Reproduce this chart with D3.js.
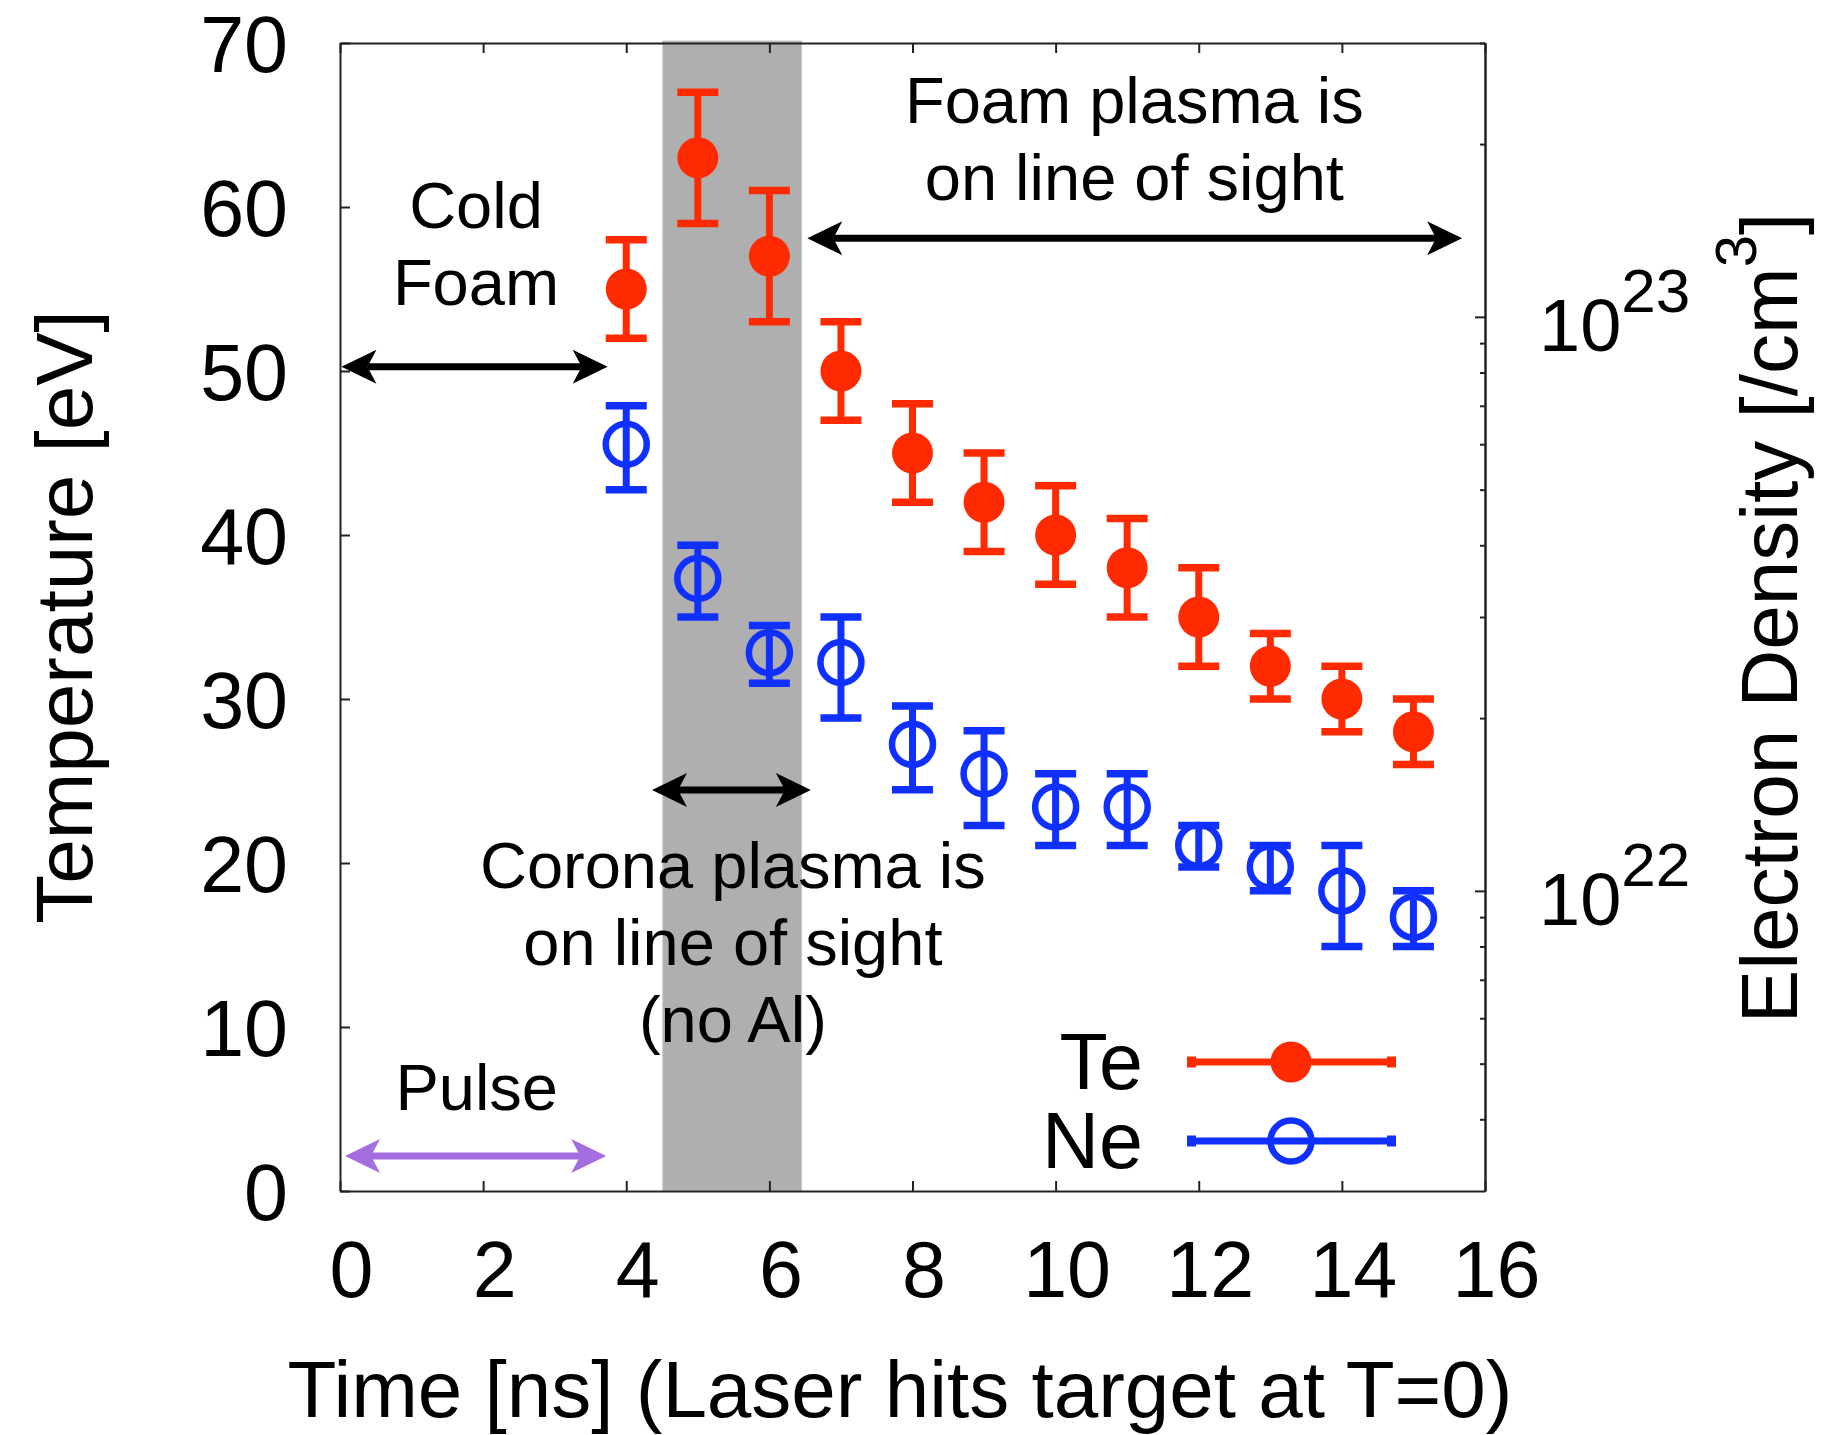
<!DOCTYPE html>
<html>
<head>
<meta charset="utf-8">
<script src="https://cdn.jsdelivr.net/npm/d3@7"></script>
<style>
  body { margin: 0; background: #fff; }
  text { font-family: "Liberation Sans", Arial, Helvetica, sans-serif; fill: #000; }
</style>
</head>
<body>
<div id="chart"></div>
<script>
// data
const times = [4, 5, 6, 7, 8, 9, 10, 11, 12, 13, 14, 15];
const teValues = [55, 63, 57, 50, 45, 42, 40, 38, 35, 32, 30, 28];
const teErrors = [3, 4, 4, 3, 3, 3, 3, 3, 3, 2, 2, 2];
const neValues = [6.0e22, 3.5e22, 2.6e22, 2.5e22, 1.8e22, 1.6e22, 1.4e22, 1.4e22, 1.2e22, 1.1e22, 1.0e22, 0.9e22];
const neLow = [5.0e22, 3.0e22, 2.3e22, 2.0e22, 1.5e22, 1.3e22, 1.2e22, 1.2e22, 1.1e22, 1.0e22, 0.8e22, 0.8e22];
const neHigh = [7.0e22, 4.0e22, 2.9e22, 3.0e22, 2.1e22, 1.9e22, 1.6e22, 1.6e22, 1.3e22, 1.2e22, 1.2e22, 1.0e22];

const xTicks = [0, 2, 4, 6, 8, 10, 12, 14, 16];
const yTicks = [0, 10, 20, 30, 40, 50, 60, 70];
const densityMajor = [1e22, 1e23];
const densityMinor = [4e21, 5e21, 6e21, 7e21, 8e21, 9e21, 2e22, 3e22, 4e22, 5e22, 6e22, 7e22, 8e22, 9e22, 2e23, 3e23];

// shaded interval where corona plasma is on line of sight
const coronaBand = [4.51, 6.45];

// annotation arrows [x start, x end, y] in data units
const arrowNames = ["cold", "foam", "corona", "pulse"];
const arrowStart = [0.02, 6.53, 4.36, 0.07];
const arrowEnd = [3.74, 15.68, 6.58, 3.72];
const arrowLevel = [50.26, 58.09, 24.45, 2.13];

const noteLines = [["Cold", "Foam"], ["Foam plasma is", "on line of sight"], ["Corona plasma is", "on line of sight", "(no Al)"], ["Pulse"]];
const noteX = [1.90, 11.10, 5.49, 1.91];
const noteY = [58.7, 65.1, 18.48, 4.94];

const seriesNames = ["Te", "Ne"];

const render = () => {
  const W = 1831, H = 1435;
  const plot = { left: 340, right: 1485, top: 43, bottom: 1191 };
  const red = "#ff2a00", blue = "#1030ff", axisColor = "#222";

  const svg = d3.select("#chart").append("svg")
    .attr("width", W).attr("height", H);

  const x = d3.scaleLinear().domain([0, 16]).range([plot.left, plot.right]);
  const y = d3.scaleLinear().domain([0, 70]).range([plot.bottom, plot.top]);
  const yD = d3.scaleLog().domain([3e21, 3e23]).range([plot.bottom, plot.top]);

  // gray band
  svg.append("rect")
    .attr("x", x(coronaBand[0]))
    .attr("y", plot.top - 2)
    .attr("width", x(coronaBand[1]) - x(coronaBand[0]))
    .attr("height", plot.bottom - plot.top + 2)
    .attr("fill", "#aeafae")
    .attr("stroke", "#c8c8c8")
    .attr("stroke-width", 1);

  // axes
  const styleAxis = g => {
    g.selectAll("path.domain").attr("stroke", axisColor).attr("stroke-width", 2);
    g.selectAll(".tick line").attr("stroke", axisColor).attr("stroke-width", 2);
  };

  const xAxis = svg.append("g")
    .attr("transform", `translate(0,${plot.bottom})`)
    .call(d3.axisBottom(x).tickValues(xTicks).tickSize(-10).tickSizeOuter(0).tickFormat(d3.format("d")))
    .call(styleAxis);
  xAxis.selectAll(".tick text")
    .attr("y", 106).attr("dy", 0).attr("dx", 11)
    .style("font-size", "79px")
    .attr("fill", "#000");

  svg.append("g")
    .attr("transform", `translate(0,${plot.top})`)
    .call(d3.axisTop(x).tickValues(xTicks).tickSize(-10).tickSizeOuter(0).tickFormat(""))
    .call(styleAxis);

  const yAxis = svg.append("g")
    .attr("transform", `translate(${plot.left},0)`)
    .call(d3.axisLeft(y).tickValues(yTicks).tickSize(-10).tickSizeOuter(0))
    .call(styleAxis);
  yAxis.selectAll(".tick text")
    .attr("x", -52).attr("dy", "0.36em")
    .style("font-size", "79px")
    .attr("fill", "#000");

  svg.append("g")
    .attr("transform", `translate(${plot.right},0)`)
    .call(d3.axisRight(yD).tickValues(densityMinor).tickSize(-5).tickSizeOuter(0).tickFormat(""))
    .call(styleAxis);
  svg.append("g")
    .attr("transform", `translate(${plot.right},0)`)
    .call(d3.axisRight(yD).tickValues(densityMajor).tickSize(-10).tickSizeOuter(0).tickFormat(""))
    .call(styleAxis);

  // right tick labels 10^n
  const rLab = svg.append("g").selectAll("text")
    .data(densityMajor)
    .enter()
    .append("text")
    .attr("x", 1539)
    .attr("y", d => yD(d) + 34)
    .style("font-size", "74px");
  rLab.append("tspan").text("10");
  rLab.append("tspan")
    .attr("dy", -39)
    .style("font-size", "62px")
    .text(d => Math.round(Math.log10(d)));

  // axis titles
  svg.append("text")
    .attr("x", 900).attr("y", 1417)
    .attr("text-anchor", "middle")
    .style("font-size", "80px")
    .text("Time [ns] (Laser hits target at T=0)");

  svg.append("text")
    .attr("transform", `translate(92,${(plot.top + plot.bottom) / 2}) rotate(-90)`)
    .attr("text-anchor", "middle")
    .style("font-size", "80px")
    .text("Temperature [eV]");

  const rTitle = svg.append("text")
    .attr("transform", `translate(1797,618) rotate(-90)`)
    .attr("text-anchor", "middle")
    .style("font-size", "80px");
  rTitle.append("tspan").text("Electron Density [/cm");
  rTitle.append("tspan").attr("dy", -41).style("font-size", "58px").text("3");
  rTitle.append("tspan").attr("dy", 41).text("]");

  // arrows
  const arrows = svg.append("g");
  arrowNames.forEach((name, i) => {
    const color = name === "pulse" ? "#a56ee0" : "#000";
    const x1 = x(arrowStart[i]), x2 = x(arrowEnd[i]), yy = y(arrowLevel[i]);
    const len = 35, half = 17, notch = 26;
    arrows.append("line")
      .attr("x1", x1 + notch).attr("x2", x2 - notch)
      .attr("y1", yy).attr("y2", yy)
      .attr("stroke", color).attr("stroke-width", 7);
    const head = (tx, dir) => `M${tx},${yy} L${tx - dir * len},${yy - half} L${tx - dir * notch},${yy} L${tx - dir * len},${yy + half} Z`;
    arrows.append("path").attr("d", head(x2, 1)).attr("fill", color);
    arrows.append("path").attr("d", head(x1, -1)).attr("fill", color);
  });

  // notes
  const notes = svg.append("g");
  noteLines.forEach((lines, i) => {
    const t = notes.append("text")
      .attr("text-anchor", "middle")
      .style("font-size", "65px");
    lines.forEach((line, j) => {
      t.append("tspan")
        .attr("x", x(noteX[i]))
        .attr("y", y(noteY[i]) + j * 77)
        .text(line);
    });
  });

  // Te error bars and markers
  const capHalf = 20.5;
  const teG = svg.append("g").attr("stroke", red);
  teG.selectAll("line.v")
    .data(times)
    .enter().append("line")
    .attr("x1", d => x(d)).attr("x2", d => x(d))
    .attr("y1", (d, i) => y(teValues[i] - teErrors[i]))
    .attr("y2", (d, i) => y(teValues[i] + teErrors[i]))
    .attr("stroke-width", 7);
  [-1, 1].forEach(s => {
    teG.selectAll(null)
      .data(times)
      .enter().append("line")
      .attr("x1", d => x(d) - capHalf).attr("x2", d => x(d) + capHalf)
      .attr("y1", (d, i) => y(teValues[i] + s * teErrors[i]))
      .attr("y2", (d, i) => y(teValues[i] + s * teErrors[i]))
      .attr("stroke-width", 7.5);
  });
  teG.selectAll("circle")
    .data(times)
    .enter().append("circle")
    .attr("cx", d => x(d))
    .attr("cy", (d, i) => y(teValues[i]))
    .attr("r", 20.5)
    .attr("fill", red)
    .attr("stroke", "none");

  // Ne error bars and markers
  const neG = svg.append("g").attr("stroke", blue);
  neG.selectAll("line.v")
    .data(times)
    .enter().append("line")
    .attr("x1", d => x(d)).attr("x2", d => x(d))
    .attr("y1", (d, i) => yD(neLow[i]))
    .attr("y2", (d, i) => yD(neHigh[i]))
    .attr("stroke-width", 7);
  [neLow, neHigh].forEach(arr => {
    neG.selectAll(null)
      .data(times)
      .enter().append("line")
      .attr("x1", d => x(d) - capHalf).attr("x2", d => x(d) + capHalf)
      .attr("y1", (d, i) => yD(arr[i]))
      .attr("y2", (d, i) => yD(arr[i]))
      .attr("stroke-width", 7.5);
  });
  neG.selectAll("circle")
    .data(times)
    .enter().append("circle")
    .attr("cx", d => x(d))
    .attr("cy", (d, i) => yD(neValues[i]))
    .attr("r", 20.5)
    .attr("fill", "none")
    .attr("stroke-width", 6.5);

  // legend
  const legend = svg.append("g").attr("transform", "translate(0,1062)");
  seriesNames.forEach((name, i) => {
    const color = i === 0 ? red : blue;
    const row = legend.append("g").attr("transform", `translate(0,${i * 79})`);
    row.append("text")
      .attr("x", 1143).attr("y", 26.5)
      .attr("text-anchor", "end")
      .style("font-size", "79px")
      .text(name);
    row.append("line")
      .attr("x1", 1187).attr("x2", 1396)
      .attr("y1", 0).attr("y2", 0)
      .attr("stroke", color).attr("stroke-width", 7);
    [1187, 1387].forEach(px => {
      row.append("rect")
        .attr("x", px).attr("y", -5.5)
        .attr("width", 9).attr("height", 11)
        .attr("fill", color);
    });
    row.append("circle")
      .attr("cx", 1291).attr("cy", 0).attr("r", 20.5)
      .attr("fill", i === 0 ? color : "none")
      .attr("stroke", i === 0 ? "none" : color)
      .attr("stroke-width", 6.5);
  });
};

document.addEventListener("DOMContentLoaded", render);
</script>
</body>
</html>
